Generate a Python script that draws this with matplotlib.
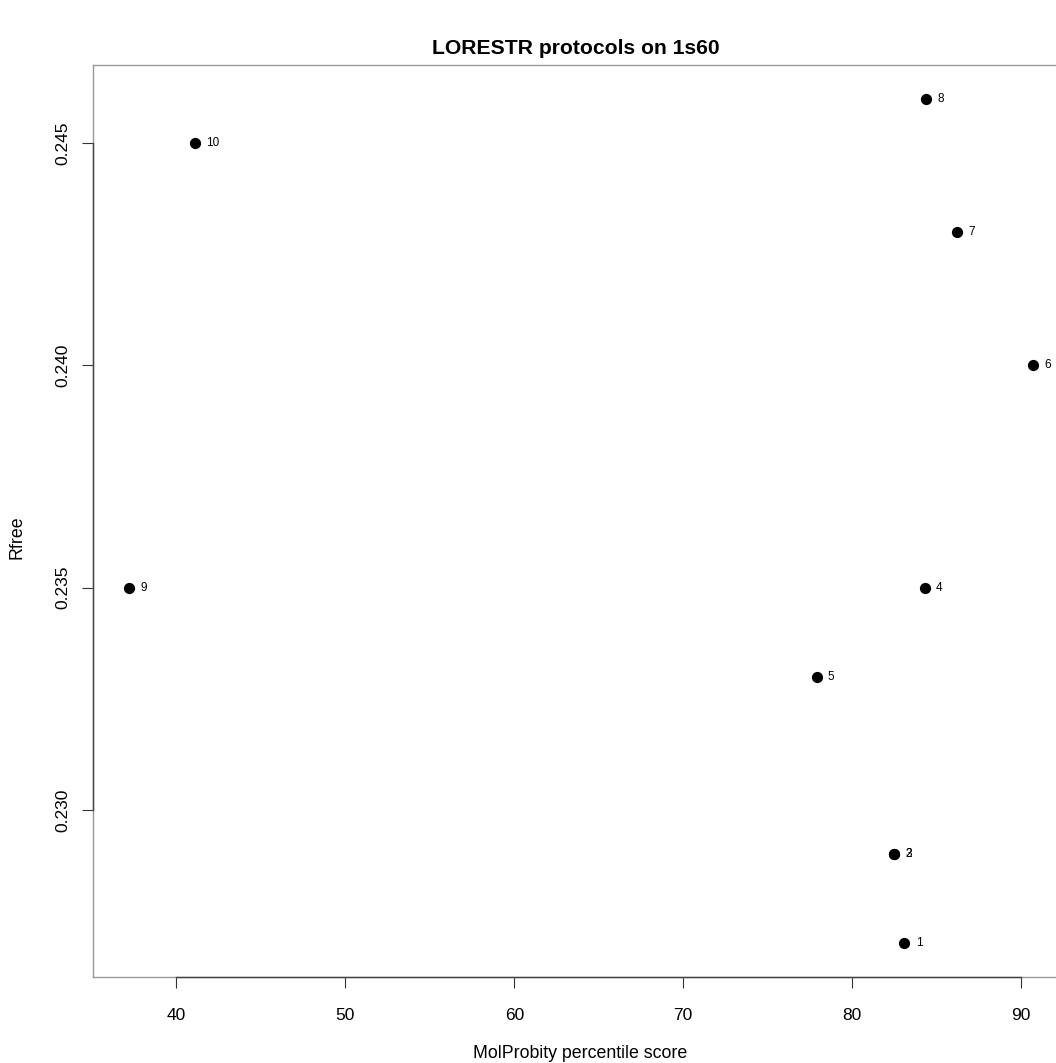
import matplotlib.pyplot as plt

plt.rcParams['font.family'] = ['Liberation Sans', 'DejaVu Sans']

# LORESTR protocols on 1s60
protocols = ['1', '2', '3', '4', '5', '6', '7', '8', '9', '10']
molprobity = [83.1, 82.5, 82.5, 84.3, 77.9, 90.7, 86.2, 84.4, 37.2, 41.1]
rfree = [0.227, 0.229, 0.229, 0.235, 0.233, 0.240, 0.243, 0.246, 0.235, 0.245]
xticks = [40, 50, 60, 70, 80, 90]
yticks = [0.230, 0.235, 0.240, 0.245]

W, H = 1056, 1063
fig = plt.figure(figsize=(W / 100, H / 100), dpi=100)
# plot region runs past the right border, as in the original
ax = fig.add_axes([93 / W, (H - 977) / H, (1069 - 93) / W, (977 - 65) / H])

ax.scatter(molprobity, rfree, s=50, color='black', zorder=3)
for lab, x, y in zip(protocols, molprobity, rfree):
    ax.annotate(lab, (x, y), xytext=(8, 0), textcoords='offset points',
                ha='left', va='center', fontsize=8.5)

# R style extended range (4%)
xr = max(molprobity) - min(molprobity)
yr = max(rfree) - min(rfree)
ax.set_xlim(min(molprobity) - 0.04 * xr, max(molprobity) + 0.04 * xr)
ax.set_ylim(min(rfree) - 0.04 * yr, max(rfree) + 0.04 * yr)

for sp in ax.spines.values():
    sp.set_color('#999999')
    sp.set_linewidth(1)

ax.set_xticks(xticks)
ax.set_xticklabels([str(v) for v in xticks])
ax.set_yticks(yticks)
ax.set_yticklabels(['%.3f' % v for v in yticks], rotation=90, va='center')
ax.tick_params(axis='both', length=8, width=0.8, color='#333333', labelsize=12.5)
ax.tick_params(axis='x', pad=14)
ax.tick_params(axis='y', pad=8)

# axis lines between first and last ticks
ax.plot([xticks[0], xticks[-1]], [ax.get_ylim()[0]] * 2, color='#444444',
        lw=1, clip_on=False, zorder=4)
ax.plot([ax.get_xlim()[0]] * 2, [yticks[0], yticks[-1]], color='#444444',
        lw=1, clip_on=False, zorder=4)

fig.text(576 / W, 1 - 48 / H, 'LORESTR protocols on 1s60', ha='center',
         va='center', fontsize=15.2, fontweight='bold')
fig.text(580 / W, 1 - 1053 / H, 'MolProbity percentile score', ha='center',
         va='center', fontsize=12.8)
fig.text(17 / W, 1 - 537 / H, 'Rfree', ha='center', va='center',
         rotation=90, fontsize=12.8)

fig.savefig('out.png', dpi=100, facecolor='white')
